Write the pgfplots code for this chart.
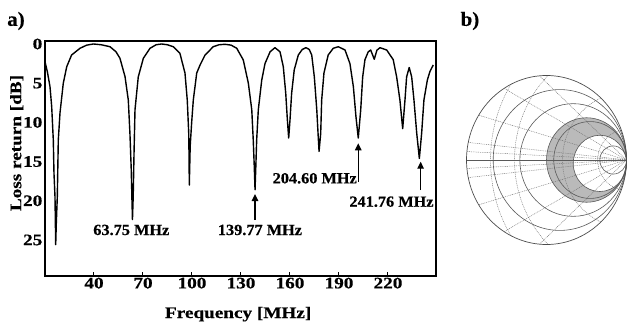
\documentclass[border=0pt]{standalone}
\usepackage{fontspec}
\usepackage{pgfplots}
\pgfplotsset{compat=1.18}
\usetikzlibrary{arrows.meta}
\setmainfont{Liberation Serif}
\newfontfamily\labfont{Liberation Serif}[FakeStretch=1.2, FakeBold=0.5]
\newfontfamily\annfont{Liberation Serif}[FakeStretch=1.05, FakeBold=0.5]
\pgfplotstableread{
f d
10.0 2.26
11.5 3.6
13.06 5.45
14.1 8.0
15.08 12.25
15.5 16.5
16.12 19.5
16.4 23.5
16.55 25.6
16.9 23.0
17.53 19.5
18.14 12.25
19.18 8.8
21.2 5.0
23.3 2.9
26.3 1.4
31.4 0.55
35.5 0.15
39.6 0.0
44.5 0.1
49.8 0.35
53.5 1.0
55.9 1.83
59.0 4.17
61.0 7.15
62.0 11.4
62.8 16.0
63.25 20.0
63.55 22.4
64.0 19.5
64.5 14.0
65.1 8.4
67.1 4.2
70.2 1.83
74.3 0.55
78.0 0.1
81.4 0.0
85.0 0.1
88.6 0.35
92.6 1.19
95.7 3.7
97.1 7.15
98.0 11.4
98.2 14.5
98.35 18.0
98.9 13.0
99.8 10.0
100.8 7.15
102.9 3.7
104.9 2.7
108.0 1.41
113.0 0.35
116.5 0.1
120.2 0.04
124.0 0.15
127.4 0.55
131.4 2.04
134.5 5.0
136.6 8.4
137.5 12.25
138.1 15.5
138.6 18.6
139.1 15.5
139.6 12.25
140.6 8.4
142.7 4.6
144.7 2.5
147.8 1.0
150.8 0.47
153.9 1.0
155.9 2.9
157.4 6.3
158.4 9.7
159.2 12.0
160.0 9.7
161.0 6.3
162.6 3.3
165.1 1.4
167.5 0.7
169.8 0.47
171.8 0.7
173.3 1.4
174.9 4.2
176.4 8.4
177.4 12.25
177.8 13.7
178.8 11.4
179.4 7.15
180.8 3.7
183.4 1.4
186.5 0.55
189.6 0.35
193.7 0.77
196.7 2.5
198.8 5.45
200.4 9.3
201.8 12.0
203.3 8.4
204.5 4.2
205.9 2.0
207.9 1.0
209.4 0.77
211.6 1.95
213.2 0.8
215.1 0.47
219.2 0.77
223.2 2.0
225.3 4.2
227.3 7.15
229.0 10.8
230.4 7.15
231.4 4.2
233.0 3.0
234.5 4.2
235.9 7.15
237.6 11.4
239.2 14.6
240.6 11.4
242.0 7.15
244.1 4.6
245.7 3.5
247.7 2.68
}\loss

\begin{document}
\begin{tikzpicture}[x=1bp,y=1bp]
\path[use as bounding box] (0,0) rectangle (627,321);
\begin{axis}[
  at={(45bp,45bp)}, anchor=south west, scale only axis,
  width=391bp, height=235bp,
  xmin=10, xmax=249.4, ymin=-0.38, ymax=29.6, y dir=reverse,
  xtick={40,70,...,220}, ytick={0,5,...,25},
  tick align=inside, xtick pos=bottom, ytick pos=left,
  major tick length=4bp,
  ytick style={draw=none}, xtick style={line width=1bp, black},
  axis line style={line width=1.3bp},
  /pgf/number format/assume math mode=true,
  tick label style={font=\labfont\bfseries\fontsize{16bp}{19bp}\selectfont},
  xticklabel style={inner sep=0pt, anchor=north, yshift=-1.5bp},
  yticklabel style={inner sep=0pt, anchor=east, xshift=-2.5bp},
  xlabel={Frequency [MHz]}, ylabel={Loss return [dB]},
  label style={font=\labfont\bfseries\fontsize{16bp}{19bp}\selectfont},
  xlabel style={at={(axis description cs:0.494,-0.1787)}, anchor=base, inner sep=0pt},
  ylabel style={at={(axis description cs:-0.0724,0.566)}, anchor=center, inner sep=0pt},
  clip=false
]
\addplot[black, line width=1.4bp, line join=round] table[x=f,y=d] {\loss};
\begin{scope}[every node/.style={font=\annfont\bfseries\fontsize{15.5bp}{18bp}\selectfont, anchor=base, inner sep=0pt}]
\node at (axis cs:62.84,24.37) {63.75 MHz};
\node at (axis cs:141.6,24.37) {139.77 MHz};
\node[anchor=base east] at (axis cs:201.0,17.78) {204.60 MHz};
\node[anchor=base east] at (axis cs:248.0,20.76) {241.76 MHz};
\end{scope}
\begin{scope}[line width=1.3bp, -{Triangle[length=7bp,width=6.5bp]}]
\draw (axis cs:138.57,22.46) -- (axis cs:138.57,19.14);
\draw (axis cs:201.8,17.57) -- (axis cs:201.8,12.67);
\draw (axis cs:240.0,18.63) -- (axis cs:240.0,15.02);
\end{scope}
\end{axis}

\node[font=\annfont\bfseries\fontsize{20bp}{24bp}\selectfont, inner sep=0pt] at (16,300) {a)};
\node[font=\annfont\bfseries\fontsize{20bp}{24bp}\selectfont, inner sep=0pt] at (470,300) {b)};

\begin{axis}[
  at={(546.5bp,161bp)}, anchor=center, scale only axis,
  width=160bp, height=169bp,
  xmin=-1, xmax=1, ymin=-1, ymax=1, hide axis, clip=false
]
\addplot[draw=none] coordinates {(-1,-1) (1,1)};
% gray region
\fill[black!27, even odd rule] (axis cs:0.5,0) ellipse [x radius=0.5, y radius=0.5]
  (axis cs:0.667,-0.04) ellipse [x radius=0.333, y radius=0.333];
% dotted grid
\begin{scope}
\clip (axis cs:0,0) ellipse [x radius=1, y radius=1];
\begin{scope}[black!55, line width=0.45bp, dash pattern=on 0.9bp off 0.9bp]
\draw (axis cs:1,0) -- (axis cs:-0.978,0.208);
\draw (axis cs:1,0) -- (axis cs:-0.978,-0.208);
\draw (axis cs:1,0) -- (axis cs:-0.848,0.530);
\draw (axis cs:1,0) -- (axis cs:-0.848,-0.530);
\draw (axis cs:1,0) -- (axis cs:-0.530,0.848);
\draw (axis cs:1,0) -- (axis cs:-0.530,-0.848);
\draw (axis cs:1,0) -- (axis cs:-0.087,0.996);
\draw (axis cs:1,0) -- (axis cs:-0.087,-0.996);
\draw (axis cs:1,0) -- (axis cs:-0.995,0.1);
\draw (axis cs:1,0) -- (axis cs:-0.995,-0.1);
\draw (axis cs:1,0) ellipse [x radius=0.36, y radius=0.36];
\draw (axis cs:1,0) ellipse [x radius=0.8, y radius=0.8];
\draw (axis cs:1,0) ellipse [x radius=1.4, y radius=1.4];
\draw (axis cs:1,0) ellipse [x radius=1.7, y radius=1.7];
\end{scope}
\end{scope}
% solid circles
\begin{scope}[black!65, line width=0.6bp]
\draw (axis cs:0.1667,0) ellipse [x radius=0.8333, y radius=0.8333];
\draw (axis cs:0.3333,0) ellipse [x radius=0.6667, y radius=0.6667];
\draw (axis cs:0.5,0) ellipse [x radius=0.5, y radius=0.5];
\draw (axis cs:0.545,0) ellipse [x radius=0.455, y radius=0.455];
\draw (axis cs:0.667,-0.04) ellipse [x radius=0.333, y radius=0.333];
\draw (axis cs:0.8333,0) ellipse [x radius=0.1667, y radius=0.1667];
\draw (axis cs:-1,0) -- (axis cs:1,0);
\end{scope}
\draw[black!70, line width=0.7bp] (axis cs:0,0) ellipse [x radius=1, y radius=1];
\end{axis}
\end{tikzpicture}
\end{document}
